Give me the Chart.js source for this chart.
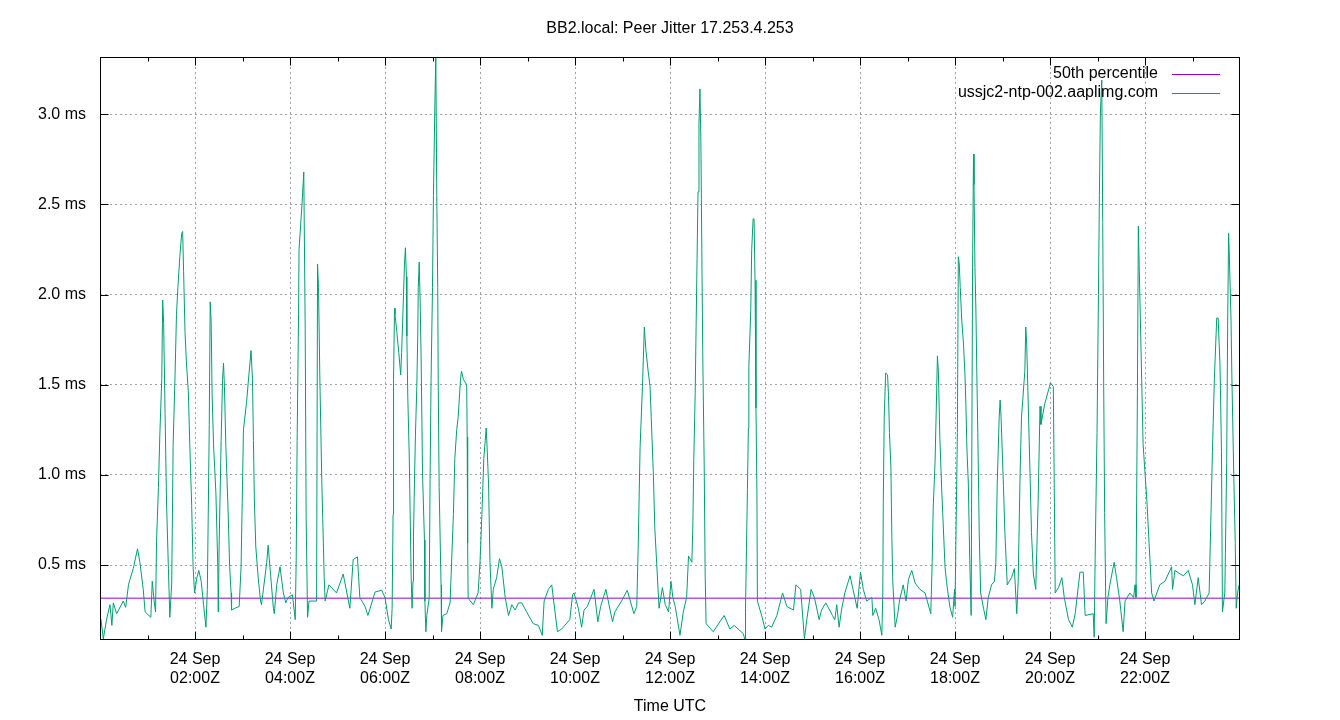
<!DOCTYPE html>
<html>
<head>
<meta charset="utf-8">
<title>BB2.local: Peer Jitter 17.253.4.253</title>
<script src="https://cdn.jsdelivr.net/npm/chart.js@4.4.1/dist/chart.umd.min.js"></script>
<style>
  html, body { margin: 0; padding: 0; background: #fff; }
  #wrap { width: 1340px; height: 720px; }
</style>
</head>
<body>
<div id="wrap"><canvas id="jitterChart" width="1340" height="720"></canvas></div>
<script>
// ---- data (hours after 00:00Z on 24 Sep, jitter in ms) ----
const dateLabel = '24 Sep';
const xTickHours = [2, 4, 6, 8, 10, 12, 14, 16, 18, 20, 22];
const yTickMs = [0.5, 1.0, 1.5, 2.0, 2.5, 3.0];
const xRange = [0, 24];
const yRange = [0.084, 3.318];
const medianMs = 0.316;
const seriesNames = ['50th percentile', 'ussjc2-ntp-002.aaplimg.com'];

const hours = [
  0.02, 0.07, 0.14, 0.21, 0.25, 0.28, 0.35, 0.49, 0.54, 0.60, 0.63, 0.70, 0.79, 0.84, 0.91, 0.95,
  1.07, 1.10, 1.14, 1.17, 1.19, 1.23, 1.26, 1.30, 1.32, 1.34, 1.37, 1.40, 1.44, 1.47, 1.51, 1.54,
  1.58, 1.61, 1.64, 1.68, 1.72, 1.74, 1.76, 1.79, 1.82, 1.86, 1.89, 1.93, 1.96, 1.99,
  2.04, 2.08, 2.13, 2.18, 2.23, 2.26, 2.28, 2.30, 2.32, 2.34, 2.36, 2.39, 2.44, 2.48, 2.49, 2.51,
  2.55, 2.58, 2.60, 2.62, 2.65, 2.69, 2.73, 2.76, 2.77, 2.84, 2.93, 2.97,
  3.00, 3.02, 3.05, 3.09, 3.12, 3.18, 3.21, 3.23, 3.25, 3.28, 3.33, 3.38, 3.40, 3.44, 3.51, 3.54,
  3.59, 3.65, 3.67, 3.72, 3.79, 3.86, 3.91, 3.96,
  4.05, 4.11, 4.13, 4.15, 4.18, 4.19, 4.25, 4.29, 4.32, 4.34, 4.37, 4.40, 4.56, 4.58, 4.60, 4.63,
  4.67, 4.72, 4.74, 4.82, 4.98, 5.12, 5.26, 5.33, 5.42, 5.47, 5.58, 5.64, 5.79, 5.93,
  6.00, 6.07, 6.13, 6.15, 6.17, 6.18, 6.20, 6.21, 6.25, 6.29, 6.33, 6.35, 6.39, 6.41, 6.43, 6.45,
  6.46, 6.48, 6.51, 6.53, 6.55, 6.57, 6.59, 6.60, 6.62, 6.64, 6.67, 6.69, 6.70, 6.72, 6.74, 6.76,
  6.79, 6.83, 6.84, 6.86, 6.88, 6.93, 6.95, 6.97,
  7.00, 7.02, 7.05, 7.07, 7.09, 7.11, 7.12, 7.14, 7.18, 7.19, 7.22, 7.30, 7.37, 7.44, 7.47, 7.51,
  7.54, 7.59, 7.61, 7.65, 7.72, 7.73, 7.74, 7.75, 7.86, 7.96,
  8.00, 8.04, 8.08, 8.11, 8.13, 8.15, 8.18, 8.21, 8.25, 8.28, 8.35, 8.41, 8.46, 8.53, 8.60, 8.67,
  8.74, 8.81, 8.88, 8.98, 9.12, 9.23, 9.31, 9.35, 9.44, 9.51, 9.63, 9.72, 9.89, 9.95, 9.98,
  10.07, 10.14, 10.19, 10.26, 10.40, 10.48, 10.54, 10.65, 10.79, 10.84, 10.98, 11.10, 11.24, 11.30,
  11.33, 11.37, 11.42, 11.46, 11.49, 11.54, 11.58, 11.65, 11.68, 11.74, 11.77, 11.84, 11.90, 11.97,
  12.02, 12.06, 12.11, 12.21, 12.28, 12.35, 12.39, 12.46, 12.48, 12.50, 12.53, 12.55, 12.57, 12.59,
  12.61, 12.63, 12.65, 12.67, 12.69, 12.72, 12.74, 12.76, 12.91,
  13.14, 13.26, 13.35, 13.54, 13.58, 13.59, 13.61, 13.63, 13.65, 13.66, 13.70, 13.72, 13.75, 13.77,
  13.79, 13.81, 13.83, 13.84, 13.94,
  14.00, 14.07, 14.14, 14.25, 14.37, 14.46, 14.60, 14.65, 14.75, 14.83, 14.88, 14.97,
  15.04, 15.14, 15.19, 15.28, 15.42, 15.47, 15.51, 15.56, 15.61, 15.68, 15.79, 15.89, 15.94,
  16.01, 16.07, 16.14, 16.25, 16.27, 16.33, 16.40, 16.46, 16.48, 16.49, 16.51, 16.54, 16.58, 16.60,
  16.62, 16.65, 16.67, 16.69, 16.74, 16.79, 16.83, 16.91, 16.97,
  17.02, 17.09, 17.16, 17.26, 17.37, 17.49, 17.52, 17.54, 17.58, 17.60, 17.63, 17.65, 17.68, 17.72,
  17.79, 17.82, 17.89, 17.95, 17.99,
  18.00, 18.05, 18.07, 18.09, 18.11, 18.14, 18.18, 18.21, 18.23, 18.25, 18.28, 18.31, 18.34, 18.37,
  18.39, 18.40, 18.42, 18.44, 18.46, 18.48, 18.51, 18.54, 18.60, 18.65, 18.70, 18.77, 18.83, 18.86,
  18.89, 18.93, 18.95, 18.97,
  19.02, 19.05, 19.10, 19.19, 19.25, 19.30, 19.33, 19.37, 19.40, 19.47, 19.49, 19.51, 19.58, 19.61,
  19.65, 19.70, 19.75, 19.79, 19.81, 19.89, 19.99,
  20.01, 20.07, 20.11, 20.18, 20.25, 20.30, 20.39, 20.47, 20.53, 20.60, 20.63, 20.70, 20.74, 20.91,
  20.93, 20.95, 20.99,
  21.02, 21.04, 21.06, 21.09, 21.11, 21.13, 21.15, 21.18, 21.22, 21.26, 21.35, 21.40, 21.47, 21.54,
  21.58, 21.68, 21.76, 21.79, 21.81, 21.84, 21.86, 21.88, 21.93, 21.96,
  22.04, 22.09, 22.14, 22.19, 22.31, 22.42, 22.56, 22.58, 22.63, 22.74, 22.81, 22.91,
  23.00, 23.05, 23.12, 23.19, 23.26, 23.35, 23.42, 23.46, 23.51, 23.54, 23.58, 23.61, 23.63, 23.68,
  23.72, 23.74, 23.76, 23.78, 23.81, 23.83, 23.87, 23.90, 23.92, 23.95, 23.98
];

const jitterMs = [
  0.20, 0.09, 0.20, 0.28, 0.165, 0.29, 0.23, 0.30, 0.265, 0.39, 0.42, 0.48, 0.59, 0.515, 0.365, 0.24,
  0.21, 0.41, 0.30, 0.24, 0.63, 0.93, 1.225, 1.53, 1.97, 1.84, 1.34, 0.855, 0.48, 0.21, 0.40, 1.17,
  1.555, 1.89, 2.04, 2.21, 2.34, 2.35, 2.13, 1.79, 1.62, 1.46, 1.17, 0.83, 0.49, 0.345,
  0.43, 0.47, 0.41, 0.28, 0.155, 0.365, 0.81, 1.28, 1.96, 1.85, 1.45, 1.17, 0.90, 0.49, 0.24, 0.64,
  1.19, 1.53, 1.62, 1.49, 1.15, 0.855, 0.49, 0.345, 0.25, 0.26, 0.27, 0.49,
  0.94, 1.25, 1.32, 1.415, 1.51, 1.69, 1.53, 1.19, 0.855, 0.60, 0.43, 0.30, 0.28, 0.365, 0.515, 0.61,
  0.45, 0.26, 0.23, 0.39, 0.49, 0.345, 0.29, 0.32,
  0.335, 0.197, 0.525, 1.19, 1.89, 2.25, 2.49, 2.68, 1.81, 0.76, 0.21, 0.30, 0.30, 2.17, 2.04, 1.51,
  0.96, 0.43, 0.30, 0.39, 0.345, 0.45, 0.26, 0.53, 0.545, 0.32, 0.27, 0.22, 0.35, 0.36,
  0.32, 0.20, 0.145, 0.26, 0.78, 1.53, 1.925, 1.89, 1.79, 1.68, 1.555, 1.68, 2.00, 2.17, 2.26, 2.10,
  1.77, 1.43, 1.11, 0.78, 0.44, 0.26, 0.41, 0.66, 0.95, 1.215, 1.49, 1.78, 2.04, 2.18, 1.96, 1.66,
  1.01, 0.64, 0.30, 0.13, 0.22, 0.315, 1.01, 1.53,
  2.04, 2.55, 3.06, 3.32, 2.55, 2.04, 1.53, 0.93, 0.39, 0.13, 0.22, 0.23, 0.29, 0.78, 1.09, 1.25,
  1.32, 1.53, 1.575, 1.53, 1.50, 1.21, 0.62, 0.315, 0.28, 0.345,
  0.515, 0.78, 1.09, 1.19, 1.26, 1.15, 0.95, 0.515, 0.26, 0.365, 0.43, 0.535, 0.49, 0.32, 0.22, 0.28,
  0.25, 0.29, 0.29, 0.24, 0.175, 0.165, 0.11, 0.30, 0.365, 0.39, 0.13, 0.145, 0.197, 0.335, 0.345,
  0.26, 0.155, 0.25, 0.27, 0.365, 0.185, 0.27, 0.365, 0.185, 0.24, 0.30, 0.36, 0.23, 0.27,
  0.60, 1.15, 1.49, 1.82, 1.70, 1.575, 1.49, 1.00, 0.705, 0.41, 0.26, 0.375, 0.28, 0.24,
  0.41, 0.32, 0.27, 0.11, 0.24, 0.32, 0.55, 0.515, 0.705, 1.08, 1.45, 1.83, 2.20, 2.57,
  2.95, 3.14, 2.85, 2.25, 1.66, 1.055, 0.45, 0.175, 0.13,
  0.22, 0.145, 0.165, 0.12, 0.085, 0.26, 0.59, 0.92, 1.26, 1.60, 1.915, 2.25, 2.42, 2.42,
  2.08, 1.37, 0.90, 0.30, 0.21,
  0.145, 0.165, 0.155, 0.22, 0.345, 0.27, 0.25, 0.39, 0.365, 0.09, 0.197, 0.365,
  0.32, 0.197, 0.25, 0.29, 0.22, 0.197, 0.28, 0.155, 0.25, 0.345, 0.44, 0.32, 0.26,
  0.46, 0.365, 0.30, 0.32, 0.22, 0.26, 0.197, 0.11, 0.345, 0.845, 1.32, 1.565, 1.555, 1.44,
  1.235, 1.045, 0.66, 0.41, 0.155, 0.22, 0.30, 0.39, 0.30,
  0.42, 0.47, 0.40, 0.365, 0.345, 0.23, 0.515, 0.81, 1.07, 1.30, 1.66, 1.575, 1.215, 0.92,
  0.49, 0.41, 0.27, 0.21, 0.365,
  0.27, 1.235, 2.21, 2.17, 2.04, 1.87, 1.72, 1.555, 1.38, 1.15, 0.955, 0.535, 0.22, 2.15,
  2.78, 2.61, 2.15, 1.915, 1.555, 1.235, 0.68, 0.345, 0.26, 0.197, 0.32, 0.39, 0.41, 0.515,
  0.96, 1.32, 1.415, 1.32,
  0.94, 0.68, 0.39, 0.43, 0.48, 0.23, 0.41, 1.00, 1.32, 1.575, 1.82, 1.72, 1.00, 0.68,
  0.45, 0.365, 0.855, 1.38, 1.28, 1.395, 1.49,
  1.51, 1.49, 0.345, 0.375, 0.43, 0.32, 0.197, 0.155, 0.23, 0.39, 0.46, 0.46, 0.22, 0.23,
  0.10, 0.535, 1.235,
  2.00, 2.55, 3.00, 3.19, 2.40, 1.51, 0.79, 0.175, 0.32, 0.39, 0.515, 0.43, 0.30, 0.13,
  0.30, 0.345, 0.32, 0.39, 0.32, 1.45, 2.38, 2.13, 1.53, 1.17,
  0.855, 0.60, 0.345, 0.30, 0.39, 0.41, 0.49, 0.365, 0.47, 0.45, 0.44, 0.47,
  0.39, 0.28, 0.43, 0.28, 0.30, 0.345, 1.13, 1.53, 1.87, 1.87, 1.60, 1.13, 0.24, 0.345,
  1.07, 1.83, 2.34, 2.17, 1.87, 1.53, 0.98, 0.62, 0.26, 0.345, 0.39
];

// ---- styling ----
const FONT = "'Liberation Sans', Arial, sans-serif";
const PURPLE = '#9400d3';
const GREEN = '#009e73';
const GRID = '#a0a0a0';

Chart.defaults.font.family = FONT;
Chart.defaults.font.size = 16;
Chart.defaults.color = '#000';

const pad2 = n => String(n).padStart(2, '0');

// gnuplot-style frame, inward tick marks and in-plot key
const gnuplotFrame = {
    id: 'gnuplotFrame',
    afterDatasetsDraw(chart) {
        const { ctx, chartArea: a, scales: { x, y } } = chart;
        const L = Math.round(a.left) + 0.5, R = Math.round(a.right) - 0.5;
        const T = Math.round(a.top) + 0.5, B = Math.round(a.bottom) - 0.5;
        ctx.save();
        ctx.strokeStyle = '#000';
        ctx.lineWidth = 1;
        ctx.beginPath();
        // x ticks every hour, longer on labelled hours
        for (let h = Math.ceil(xRange[0]) + 1; h < xRange[1]; h++) {
            const px = Math.round(x.getPixelForValue(h)) + 0.5;
            const len = xTickHours.includes(h) ? 8 : 4;
            ctx.moveTo(px, B); ctx.lineTo(px, B - len);
            ctx.moveTo(px, T); ctx.lineTo(px, T + len);
        }
        for (const v of yTickMs) {
            const py = Math.round(y.getPixelForValue(v)) + 0.5;
            ctx.moveTo(L, py); ctx.lineTo(L + 8, py);
            ctx.moveTo(R, py); ctx.lineTo(R - 8, py);
        }
        ctx.stroke();
        ctx.strokeRect(L, T, R - L, B - T);

        // key
        const colors = [PURPLE, GREEN];
        ctx.font = '16px ' + FONT;
        ctx.textAlign = 'right';
        ctx.textBaseline = 'middle';
        seriesNames.forEach((name, i) => {
            const ty = 74 + i * 19;
            ctx.fillStyle = '#000';
            ctx.fillText(name, 1158, ty);
            ctx.strokeStyle = colors[i];
            ctx.beginPath();
            ctx.moveTo(1172, ty + 0.5);
            ctx.lineTo(1220, ty + 0.5);
            ctx.stroke();
        });
        ctx.restore();
    }
};

const ctx = document.getElementById('jitterChart').getContext('2d');

new Chart(ctx, {
    type: 'line',
    data: {
        datasets: [
            {
                label: seriesNames[0],
                data: [{ x: xRange[0], y: medianMs }, { x: xRange[1], y: medianMs }],
                borderColor: PURPLE,
                borderWidth: 1,
                pointRadius: 0,
                order: 1
            },
            {
                label: seriesNames[1],
                data: hours.map((h, i) => ({ x: h, y: jitterMs[i] })),
                borderColor: GREEN,
                borderWidth: 1,
                pointRadius: 0,
                tension: 0,
                order: 0
            }
        ]
    },
    options: {
        responsive: false,
        animation: false,
        parsing: false,
        layout: { padding: { left: 0, right: 100, top: 0, bottom: 0 } },
        plugins: {
            legend: { display: false },
            tooltip: { enabled: false },
            title: {
                display: true,
                fullSize: false,
                text: 'BB2.local: Peer Jitter 17.253.4.253',
                color: '#000',
                font: { size: 16, weight: 'normal', lineHeight: 1.15 },
                padding: { top: 19, bottom: 19.6 }
            }
        },
        scales: {
            x: {
                type: 'linear',
                min: xRange[0],
                max: xRange[1],
                afterBuildTicks: s => { s.ticks = xTickHours.map(v => ({ value: v })); },
                afterFit: s => { s.height = 80; },
                ticks: {
                    autoSkip: false,
                    maxRotation: 0,
                    padding: 10.5,
                    font: { size: 16, lineHeight: 1.15 },
                    callback: v => [dateLabel, pad2(v) + ':00Z']
                },
                grid: { color: GRID, lineWidth: 1, drawTicks: false },
                border: { display: false, dash: [2, 3] },
                title: {
                    display: true,
                    text: 'Time UTC',
                    color: '#000',
                    font: { size: 16, lineHeight: 1.15 },
                    padding: { top: 4, bottom: 4.5 }
                }
            },
            y: {
                type: 'linear',
                min: yRange[0],
                max: yRange[1],
                afterBuildTicks: s => { s.ticks = yTickMs.map(v => ({ value: v })); },
                afterFit: s => { s.width = 100; },
                ticks: {
                    padding: 14,
                    callback: v => v.toFixed(1) + ' ms'
                },
                grid: { color: GRID, lineWidth: 1, drawTicks: false },
                border: { display: false, dash: [2, 3] }
            }
        }
    },
    plugins: [gnuplotFrame]
});
</script>
</body>
</html>
